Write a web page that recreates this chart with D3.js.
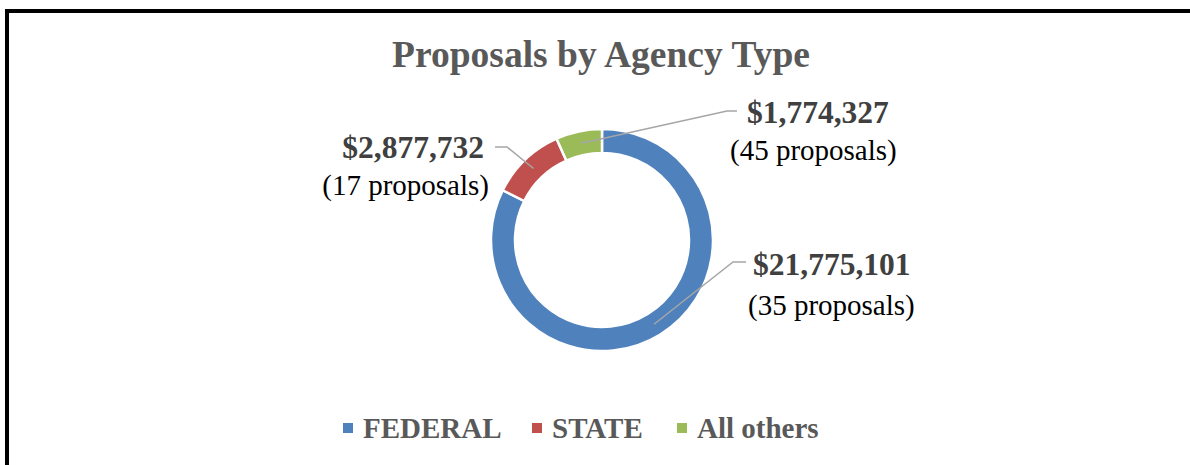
<!DOCTYPE html>
<html>
<head>
<meta charset="utf-8">
<script src="https://cdn.jsdelivr.net/npm/d3@7"></script>
<style>
	body { margin: 0; background: #fff; }
	svg { display: block; }
	text { font-family: "Liberation Serif", "Times New Roman", serif; }
</style>
</head>
<body>
<svg id="chart" width="1190" height="465"></svg>
<script>
// chart data
const categories = ["FEDERAL", "STATE", "All others"];
const amounts = [21775101, 2877732, 1774327];
const proposalCounts = [35, 17, 45];
const colors = ["#4f81bd", "#c0504d", "#9bbb59"];
const chartTitle = "Proposals by Agency Type";

const svg = d3.select("#chart");
const width = 1190, height = 465;

// frame (only top and left edges show in the picture)
svg.append("rect")
	.attr("x", 7).attr("y", 11)
	.attr("width", width + 20).attr("height", height + 20)
	.attr("fill", "none")
	.attr("stroke", "#000")
	.attr("stroke-width", 4);

svg.append("text")
	.attr("x", 601).attr("y", 67)
	.attr("text-anchor", "middle")
	.attr("font-size", 37.5)
	.attr("font-weight", "bold")
	.attr("fill", "#595959")
	.text(chartTitle);

const cx = 602, cy = 240;
const outerR = 111, innerR = 87;

const data = categories.map((c, i) => ({ name: c, value: amounts[i], count: proposalCounts[i], color: colors[i] }));

const pie = d3.pie().sort(null).value(d => d.value);
const arc = d3.arc().innerRadius(innerR).outerRadius(outerR);
const arcs = pie(data);

const g = svg.append("g").attr("transform", `translate(${cx},${cy})`);

g.selectAll("path.slice")
	.data(arcs)
	.enter()
	.append("path")
	.attr("class", "slice")
	.attr("d", arc)
	.attr("fill", d => d.data.color)
	.attr("stroke", "#fff")
	.attr("stroke-width", 2.5);

// label layout: elbow / end of the leader line and text position, relative to centre
const labelLayout = [
	{ elbow: [131, 22], end: [144, 22], anchor: "start", tx: 151, ty1: 35, ty2: 75, tx2: 146 },
	{ elbow: [-95, -93], end: [-107, -93], anchor: "end", tx: -118, ty1: -82, ty2: -45, tx2: -113 },
	{ elbow: [125, -129], end: [135, -129], anchor: "start", tx: 145, ty1: -117, ty2: -80, tx2: 128 }
];

const fmt = d3.format("$,");

arcs.forEach((a, i) => {
	const L = labelLayout[i];
	const c = arc.centroid(a);
	g.append("polyline")
		.attr("points", [c, L.elbow, L.end].map(p => p.join(",")).join(" "))
		.attr("fill", "none")
		.attr("stroke", "#a6a6a6")
		.attr("stroke-width", 1.5);

	g.append("text")
		.attr("x", L.tx).attr("y", L.ty1)
		.attr("text-anchor", L.anchor)
		.attr("font-size", 31.5)
		.attr("font-weight", "bold")
		.attr("fill", "#404040")
		.text(fmt(a.data.value));

	g.append("text")
		.attr("x", L.tx2).attr("y", L.ty2)
		.attr("text-anchor", L.anchor)
		.attr("font-size", 29)
		.attr("fill", "#000")
		.text(`(${a.data.count} proposals)`);
});

// legend
const legendX = [343, 532, 677];
const legend = svg.append("g");
data.forEach((d, i) => {
	legend.append("rect")
		.attr("x", legendX[i]).attr("y", 423)
		.attr("width", 10).attr("height", 10)
		.attr("fill", d.color);
	legend.append("text")
		.attr("x", legendX[i] + 20).attr("y", 438)
		.attr("font-size", 29)
		.attr("font-weight", "bold")
		.attr("fill", "#595959")
		.text(d.name);
});
</script>
</body>
</html>
